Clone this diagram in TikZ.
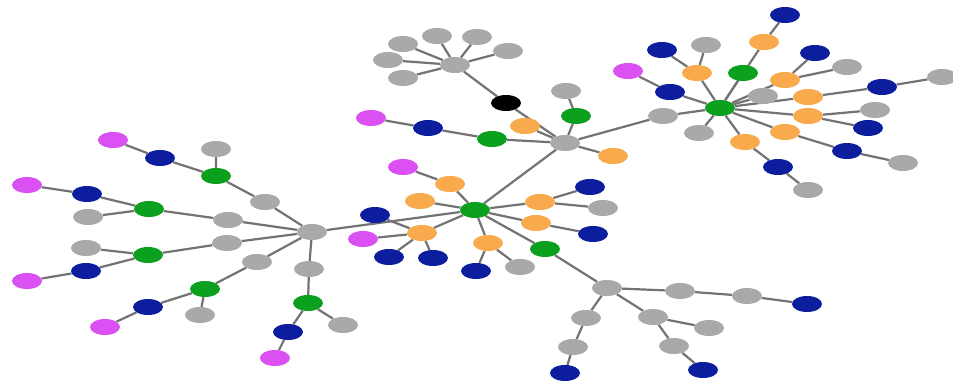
\documentclass[tikz,border=0pt]{standalone}
\usetikzlibrary{backgrounds,shapes.geometric}
\definecolor{cgray}{HTML}{A9A9A9}
\definecolor{cnavy}{HTML}{0C1E9E}
\definecolor{cgreen}{HTML}{0BA11E}
\definecolor{cmag}{HTML}{DA50F2}
\definecolor{corange}{HTML}{F8AA4C}
\definecolor{cedge}{HTML}{737373}
\tikzset{
  vert/.style={ellipse, inner sep=0pt, minimum width=30pt, minimum height=16pt, draw=none},
  gy/.style={vert, fill=cgray},
  nv/.style={vert, fill=cnavy},
  gn/.style={vert, fill=cgreen},
  mg/.style={vert, fill=cmag},
  og/.style={vert, fill=corange},
  bk/.style={vert, fill=black},
  link/.style={draw=cedge, line width=2.2pt}
}
\begin{document}
\begin{tikzpicture}[x=1pt,y=-1pt]
\useasboundingbox (0,0) rectangle (953,383);
% left cluster
\node[gy] (L0) at (312,232) {};
\node[gy] (L1) at (265,202) {};
\node[gn] (L1g) at (216,176) {};
\node[gy] (L1a) at (216,149) {};
\node[nv] (L1n) at (160,158) {};
\node[mg] (L1m) at (113,140) {};
\node[gy] (L2) at (228,220) {};
\node[gn] (L2g) at (149,209) {};
\node[nv] (L2n) at (87,194) {};
\node[mg] (L2m) at (27,185) {};
\node[gy] (L2a) at (88,217) {};
\node[gy] (L3) at (227,243) {};
\node[gn] (L3g) at (148,255) {};
\node[gy] (L3a) at (86,248) {};
\node[nv] (L3n) at (86,271) {};
\node[mg] (L3m) at (27,281) {};
\node[gy] (L4) at (257,262) {};
\node[gn] (L4g) at (205,289) {};
\node[gy] (L4a) at (200,315) {};
\node[nv] (L4n) at (148,307) {};
\node[mg] (L4m) at (105,327) {};
\node[gy] (L5) at (309,269) {};
\node[gn] (L5g) at (308,303) {};
\node[gy] (L5a) at (343,325) {};
\node[nv] (L5n) at (288,332) {};
\node[mg] (L5m) at (275,358) {};
% center cluster
\node[gn] (C) at (475,210) {};
\node[og] (C1) at (450,184) {};
\node[mg] (C1m) at (403,167) {};
\node[og] (C2) at (420,201) {};
\node[og] (C3) at (422,233) {};
\node[nv] (C3a) at (375,215) {};
\node[mg] (C3b) at (363,239) {};
\node[nv] (C3c) at (389,257) {};
\node[nv] (C3d) at (433,258) {};
\node[og] (C4) at (488,243) {};
\node[nv] (C4n) at (476,271) {};
\node[gy] (C4a) at (520,267) {};
\node[gn] (C5) at (545,249) {};
\node[og] (C6) at (540,202) {};
\node[nv] (C6n) at (590,187) {};
\node[gy] (C6a) at (603,208) {};
\node[og] (C7) at (536,223) {};
\node[nv] (C7n) at (593,234) {};
% top cluster
\node[gy] (T) at (455,65) {};
\node[gy] (T1) at (403,44) {};
\node[gy] (T2) at (437,36) {};
\node[gy] (T3) at (477,37) {};
\node[gy] (T4) at (508,51) {};
\node[gy] (T5) at (388,60) {};
\node[gy] (T6) at (403,78) {};
\node[bk] (K) at (506,103) {};
\node[gy] (H) at (565,143) {};
\node[og] (H1) at (525,126) {};
\node[gn] (H2) at (576,116) {};
\node[gy] (H2a) at (566,91) {};
\node[gn] (H3) at (492,139) {};
\node[nv] (H3n) at (428,128) {};
\node[mg] (H3m) at (371,118) {};
\node[og] (H4) at (613,156) {};
% right cluster
\node[gn] (R) at (720,108) {};
\node[gy] (R0) at (663,116) {};
\node[og] (R1) at (764,42) {};
\node[nv] (R1n) at (785,15) {};
\node[gn] (R2) at (743,73) {};
\node[og] (R3) at (697,73) {};
\node[nv] (R3n) at (662,50) {};
\node[gy] (R3a) at (706,45) {};
\node[nv] (R4) at (670,92) {};
\node[mg] (R4m) at (628,71) {};
\node[og] (R5) at (785,80) {};
\node[nv] (R5n) at (815,53) {};
\node[gy] (R5a) at (847,67) {};
\node[gy] (R6) at (763,96) {};
\node[og] (R7) at (808,97) {};
\node[nv] (R7n) at (882,87) {};
\node[gy] (R7a) at (942,77) {};
\node[og] (R8) at (808,116) {};
\node[gy] (R8a) at (875,110) {};
\node[nv] (R8n) at (868,128) {};
\node[og] (R9) at (785,132) {};
\node[nv] (R9n) at (847,151) {};
\node[gy] (R9a) at (903,163) {};
\node[og] (R10) at (745,142) {};
\node[nv] (R10n) at (778,167) {};
\node[gy] (R10a) at (808,190) {};
\node[gy] (R11) at (699,133) {};
% bottom cluster
\node[gy] (B) at (607,288) {};
\node[gy] (B1) at (680,291) {};
\node[gy] (B1a) at (747,296) {};
\node[nv] (B1n) at (807,304) {};
\node[gy] (B2) at (586,318) {};
\node[gy] (B2a) at (573,347) {};
\node[nv] (B2n) at (565,373) {};
\node[gy] (B3) at (653,317) {};
\node[gy] (B3a) at (709,328) {};
\node[gy] (B3b) at (674,346) {};
\node[nv] (B3n) at (703,370) {};
\begin{scope}[on background layer]
\fill[white] (0,0) rectangle (953,383);
\draw[link] (L0) -- (L1) -- (L1g) -- (L1a);
\draw[link] (L1g) -- (L1n) -- (L1m);
\draw[link] (L0) -- (L2) -- (L2g) -- (L2n) -- (L2m);
\draw[link] (L2g) -- (L2a);
\draw[link] (L0) -- (L3) -- (L3g) -- (L3a);
\draw[link] (L3g) -- (L3n) -- (L3m);
\draw[link] (L0) -- (L4) -- (L4g) -- (L4a);
\draw[link] (L4g) -- (L4n) -- (L4m);
\draw[link] (L0) -- (L5) -- (L5g) -- (L5a);
\draw[link] (L5g) -- (L5n) -- (L5m);
\draw[link] (L0) -- (C);
\draw[link] (C) -- (C1) -- (C1m);
\draw[link] (C) -- (C2);
\draw[link] (C) -- (C3) -- (C3a);
\draw[link] (C3) -- (C3b);
\draw[link] (C3) -- (C3c);
\draw[link] (C3) -- (C3d);
\draw[link] (C) -- (C4) -- (C4n);
\draw[link] (C4) -- (C4a);
\draw[link] (C) -- (C5) -- (B);
\draw[link] (C) -- (C6) -- (C6n);
\draw[link] (C6) -- (C6a);
\draw[link] (C) -- (C7) -- (C7n);
\draw[link] (C) -- (H);
\foreach \t in {T1,T2,T3,T4,T5,T6} \draw[link] (T) -- (\t);
\draw[link] (T) -- (K) -- (H);
\draw[link] (H) -- (H1);
\draw[link] (H) -- (H2) -- (H2a);
\draw[link] (H) -- (H3) -- (H3n) -- (H3m);
\draw[link] (H) -- (H4);
\draw[link] (H) -- (R0) -- (R);
\draw[link] (R) -- (R1) -- (R1n);
\draw[link] (R) -- (R2);
\draw[link] (R) -- (R3) -- (R3n);
\draw[link] (R3) -- (R3a);
\draw[link] (R) -- (R4) -- (R4m);
\draw[link] (R) -- (R5) -- (R5n);
\draw[link] (R5) -- (R5a);
\draw[link] (R) -- (R6);
\draw[link] (R) -- (R7) -- (R7n) -- (R7a);
\draw[link] (R) -- (R8) -- (R8a);
\draw[link] (R8) -- (R8n);
\draw[link] (R) -- (R9) -- (R9n) -- (R9a);
\draw[link] (R) -- (R10) -- (R10n) -- (R10a);
\draw[link] (R) -- (R11);
\draw[link] (B) -- (B1) -- (B1a) -- (B1n);
\draw[link] (B) -- (B2) -- (B2a) -- (B2n);
\draw[link] (B) -- (B3) -- (B3a);
\draw[link] (B3) -- (B3b) -- (B3n);
\end{scope}
\end{tikzpicture}
\end{document}
